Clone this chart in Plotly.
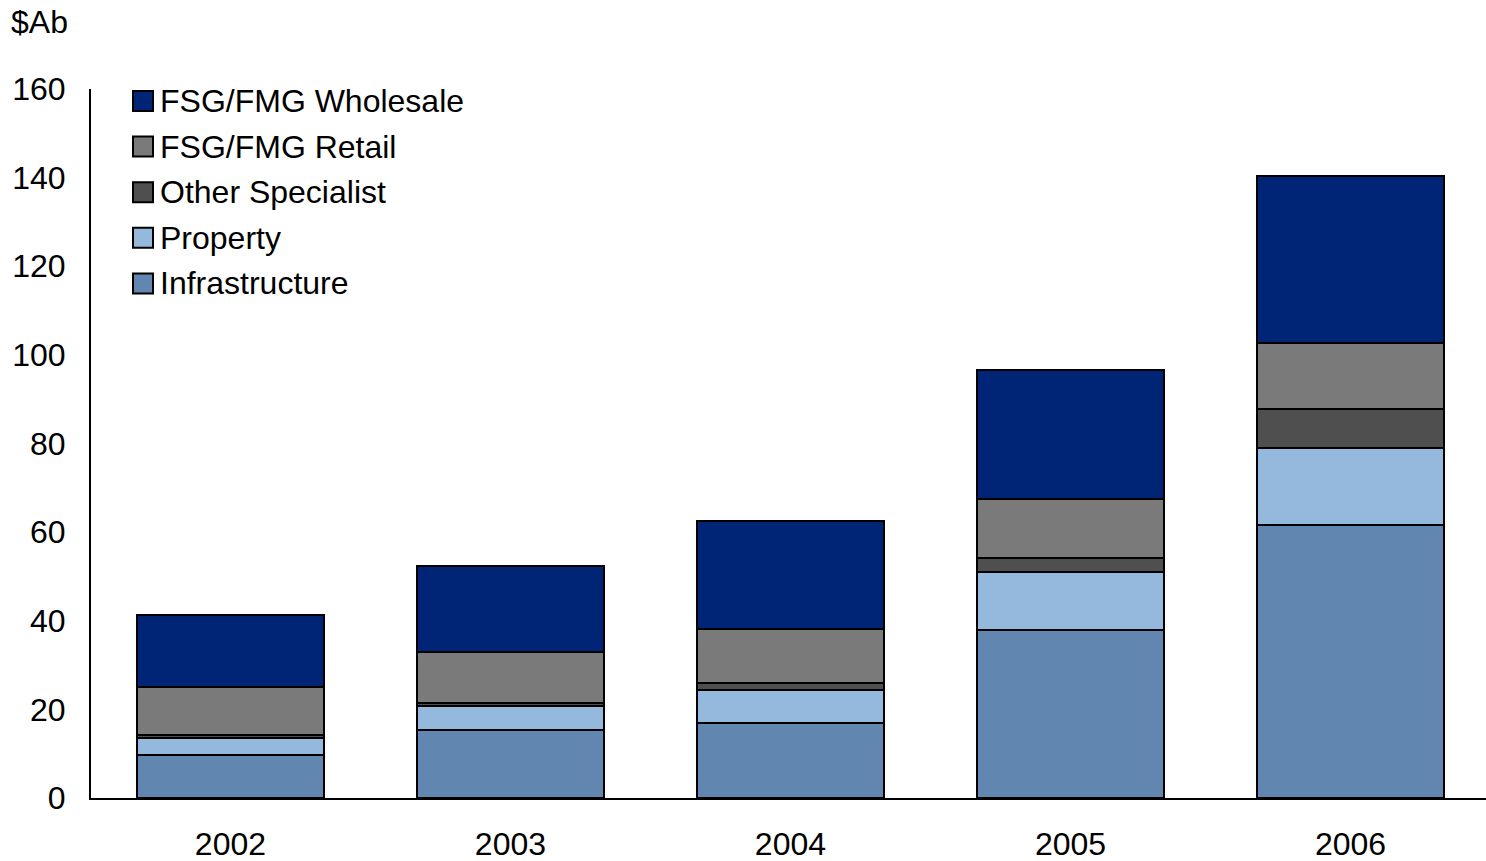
import plotly.graph_objects as go

# Funds under management by asset class, $A billions
years = ["2002", "2003", "2004", "2005", "2006"]
infrastructure = [9.7, 15.4, 17.0, 37.9, 61.5]
property_ = [3.9, 5.4, 7.4, 13.0, 17.5]
other_specialist = [0.6, 0.6, 1.6, 3.3, 8.7]
fsg_retail = [10.9, 11.5, 12.2, 13.3, 14.9]
fsg_wholesale = [16.1, 19.5, 24.3, 29.2, 37.8]

y_ticks = [0, 20, 40, 60, 80, 100, 120, 140, 160]

series = [
    ("Infrastructure", infrastructure, "#6187b0"),
    ("Property", property_, "#95b9dd"),
    ("Other Specialist", other_specialist, "#4f4f4f"),
    ("FSG/FMG Retail", fsg_retail, "#7a7a7a"),
    ("FSG/FMG Wholesale", fsg_wholesale, "#002577"),
]

FONT = "Liberation Sans, Arial, sans-serif"
FS = 32
W, H = 1486, 861
ML, MR, MT, MB = 91, 0, 89, 63
PW, PH = W - ML - MR, H - MT - MB

fig = go.Figure()
for name, vals, color in series:
    fig.add_trace(go.Bar(
        x=years, y=vals, name=name,
        marker=dict(color=color, line=dict(color="black", width=2)),
        showlegend=False,
    ))


def px_x(p):
    return (p - ML) / PW


def px_y(p):
    return (H - MB - p) / PH


# Legend drawn as squares and labels, top entry first
shapes = []
annotations = []
row0, row_step = 101, 45.6
for i, (name, vals, color) in enumerate(reversed(series)):
    cy = row0 + i * row_step
    shapes.append(dict(
        type="rect", xref="paper", yref="paper",
        x0=px_x(133), x1=px_x(153), y0=px_y(cy + 10), y1=px_y(cy - 10),
        fillcolor=color, line=dict(color="black", width=2),
    ))
    annotations.append(dict(
        xref="paper", yref="paper", x=px_x(158), y=px_y(cy),
        xanchor="left", yanchor="middle", text=name, showarrow=False,
        font=dict(family=FONT, size=FS, color="black"),
    ))

annotations.append(dict(
    xref="paper", yref="paper", x=px_x(9), y=px_y(22),
    xanchor="left", yanchor="middle", text="$Ab", showarrow=False,
    font=dict(family=FONT, size=FS, color="black"),
))

fig.update_layout(
    width=W, height=H,
    margin=dict(l=ML, r=MR, t=MT, b=MB, pad=0),
    barmode="stack", bargap=0.332,
    plot_bgcolor="white", paper_bgcolor="white",
    font=dict(family=FONT, size=FS, color="black"),
    shapes=shapes, annotations=annotations,
    showlegend=False,
)
fig.update_xaxes(
    type="category", range=[-0.498, 4.484],
    showline=True, linecolor="black", linewidth=2,
    showgrid=False, ticks="outside", ticklen=17, tickcolor="rgba(0,0,0,0)",
    tickfont=dict(family=FONT, size=FS, color="black"),
)
fig.update_yaxes(
    range=[0, 160], tickvals=y_ticks, showline=True, linecolor="black",
    linewidth=2, showgrid=False, zeroline=False, ticks="outside", ticklen=17,
    tickcolor="rgba(0,0,0,0)",
    tickfont=dict(family=FONT, size=FS, color="black"),
)

fig.write_html("out.html")
